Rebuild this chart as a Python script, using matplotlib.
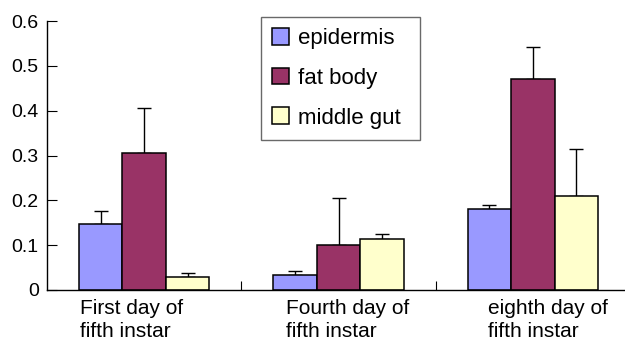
import numpy as np
import matplotlib
matplotlib.use('Agg')
import matplotlib.pyplot as plt

plt.rcParams['font.family'] = ['Liberation Sans', 'DejaVu Sans']

categories = ['First day of\nfifth instar', 'Fourth day of\nfifth instar', 'eighth day of\nfifth instar']
tissues = ['epidermis', 'fat body', 'middle gut']
epidermis = [0.147, 0.034, 0.181]
fat_body = [0.306, 0.100, 0.471]
middle_gut = [0.030, 0.114, 0.210]
epidermis_err = [0.029, 0.008, 0.009]
fat_body_err = [0.101, 0.105, 0.071]
middle_gut_err = [0.008, 0.012, 0.105]
yticks = [0, 0.1, 0.2, 0.3, 0.4, 0.5, 0.6]
ytick_labels = ['0', '0.1', '0.2', '0.3', '0.4', '0.5', '0.6']

colors = ['#9999FF', '#993366', '#FFFFCC']
label_shift = [-0.33, -0.27, -0.23]   # left edge of each category label, relative to group centre

fig = plt.figure(figsize=(6.25, 3.43), dpi=100)
ax = fig.add_axes([47 / 625, 1 - 290 / 343, 583 / 625, 269 / 343])

x = np.arange(len(categories))
w = 0.223
series = [(epidermis, epidermis_err), (fat_body, fat_body_err), (middle_gut, middle_gut_err)]
handles = []
for i, ((vals, errs), col, name) in enumerate(zip(series, colors, tissues)):
    pos = x + (i - 1) * w
    b = ax.bar(pos, vals, width=w, color=col, edgecolor='black', linewidth=1.1,
               label=name, zorder=2)
    handles.append(b)
    ax.errorbar(pos, vals, yerr=[np.zeros(len(vals)), errs], fmt='none',
                ecolor='black', elinewidth=1.0, capsize=5, capthick=1.0, zorder=1)

ax.set_xlim(-0.5, 2.5)
ax.set_ylim(0, 0.6)
ax.set_yticks(yticks)
ax.set_yticklabels(ytick_labels, fontsize=14)
ax.tick_params(axis='y', direction='in', length=7, width=0.8, pad=6)
ax.set_xticks([0.5, 1.5, 2.5])
ax.set_xticklabels([])
ax.tick_params(axis='x', direction='in', length=6.5, width=0.8)

for s in ['top', 'right']:
    ax.spines[s].set_visible(False)
for s in ['left', 'bottom']:
    ax.spines[s].set_linewidth(1.0)

# two-line category labels, left-justified under each group
for xi, lab, dx in zip(x, categories, label_shift):
    ax.text(xi + dx, -0.019, lab, fontsize=15, ha='left', va='top', linespacing=1.3)

leg = fig.legend(handles=handles, loc='upper left',
                 bbox_to_anchor=(261 / 625, 1 - 136 / 343, 159 / 625, 119 / 343),
                 bbox_transform=fig.transFigure, mode='expand', fontsize=16,
                 frameon=True, fancybox=False, edgecolor='#444444',
                 handlelength=0.77, handleheight=0.77, handletextpad=0.4,
                 labelspacing=0.84, borderpad=0.5, borderaxespad=0)
leg.get_frame().set_linewidth(1.0)
for p in leg.get_patches():
    p.set_linewidth(1.1)

fig.savefig('out.png', dpi=100)
